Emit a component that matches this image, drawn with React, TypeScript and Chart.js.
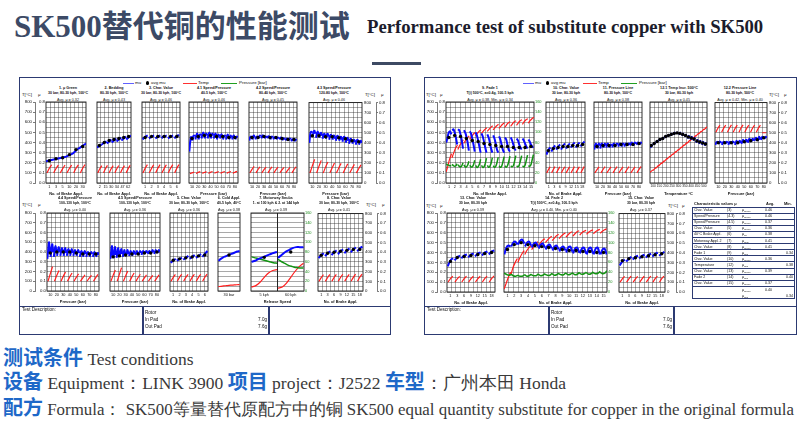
import React, { useEffect, useRef } from "react";
import { Chart, registerables } from "chart.js";

Chart.register(...registerables);

const FONT = "'Liberation Sans', Arial, sans-serif";
const SERIF = "'Liberation Serif', 'Times New Roman', serif";
const CJK = "'Noto Sans CJK SC', 'Noto Sans', sans-serif";
const NAVY = "#2c3a72";
const BLUE = "#1e68c8";
const GRID = "rgba(40,40,40,0.8)";

// ---------- tick labels ----------
const tempTicks = [0, 100, 200, 300, 400, 500, 600, 700, 800];
const muTicks = [0, 0.1, 0.2, 0.3, 0.4, 0.5, 0.6, 0.7, 0.8];
const pressTicks = [0, 20, 40, 60, 80, 100, 120, 140, 160];
const c1Labels = ["1", "3", "5", "10", "20", "30"];
const c2Labels = ["2", "15", "30", "34", "47", "62"];
const six = ["1", "2", "3", "4", "5", "6"];
const pressureLabels = ["10", "20", "30", "40", "50", "60", "70", "80"];
const applLabels = ["1", "3", "6", "9", "12", "15", "18"];
const fadeLabels = ["1", "2", "3", "4", "5", "6", "7", "8", "9", "10", "11", "12", "13", "14", "15"];
const tempLabels = ["100", "150", "200", "250", "300", "350", "400", "450", "500"];

// ---------- 1. mu Green ----------
const c1Mu = [[0.215, 0.22, 0.225, 0.23], [0.23, 0.235, 0.24, 0.245], [0.245, 0.25, 0.255, 0.26], [0.26, 0.27, 0.28, 0.29], [0.29, 0.31, 0.33, 0.345], [0.345, 0.36, 0.375, 0.39]];
const c1Avg = [0.22, 0.24, 0.25, 0.28, 0.33, 0.36];
const c1Temp = [[100, 145, 180], [100, 143, 178], [100, 142, 176], [100, 143, 177], [100, 145, 179], [100, 146, 181]];
// ---------- 2. Bedding ----------
const c2Mu = [[0.35, 0.37, 0.38], [0.38, 0.4, 0.41], [0.39, 0.41, 0.43], [0.4, 0.42, 0.44], [0.41, 0.43, 0.45], [0.42, 0.44, 0.46], [0.43, 0.45, 0.47]];
const c2Avg = [0.37, 0.4, 0.42, 0.43, 0.44, 0.45, 0.46];
const c2Temp = [[100, 140, 172], [100, 141, 174], [100, 140, 172], [100, 141, 173], [100, 140, 172], [100, 142, 175]];
// ---------- 3. Char. Value ----------
const c3Mu = [[0.43, 0.45, 0.46, 0.47], [0.44, 0.45, 0.46, 0.47], [0.44, 0.45, 0.46, 0.47], [0.44, 0.46, 0.46, 0.47], [0.44, 0.45, 0.46, 0.47], [0.44, 0.46, 0.47, 0.47]];
const c3Avg = [0.45, 0.46, 0.46, 0.46, 0.46, 0.46];
const c3Temp = [[100, 145, 182], [100, 144, 180], [100, 145, 181], [100, 144, 180], [100, 145, 181], [100, 146, 183]];
// ---------- 4.1 ----------
const c41Mu = [[0.31, 0.4, 0.45, 0.46], [0.42, 0.46, 0.47, 0.46], [0.43, 0.47, 0.49, 0.47], [0.43, 0.46, 0.48, 0.47], [0.44, 0.48, 0.5, 0.48], [0.44, 0.47, 0.49, 0.47], [0.44, 0.48, 0.5, 0.48], [0.44, 0.47, 0.49, 0.47], [0.44, 0.47, 0.49, 0.47], [0.43, 0.46, 0.48, 0.46], [0.44, 0.47, 0.48, 0.46], [0.43, 0.46, 0.47, 0.46], [0.43, 0.46, 0.48, 0.46], [0.43, 0.45, 0.47, 0.45], [0.43, 0.46, 0.47, 0.45], [0.43, 0.45, 0.46, 0.45]];
const c41Avg = [0.44, 0.46, 0.47, 0.47, 0.46, 0.46, 0.45, 0.45];
const c41Temp = [[92, 100, 108], [95, 104, 112], [96, 104, 112], [96, 105, 113], [97, 105, 113], [97, 106, 114], [97, 106, 114], [98, 106, 115]];
// ---------- 4.2 ----------
const c42Mu = [[0.42, 0.45, 0.46, 0.45], [0.43, 0.46, 0.47, 0.45], [0.43, 0.45, 0.46, 0.45], [0.44, 0.46, 0.47, 0.46], [0.44, 0.46, 0.47, 0.45], [0.44, 0.45, 0.46, 0.45], [0.44, 0.46, 0.46, 0.45], [0.43, 0.45, 0.46, 0.45], [0.43, 0.45, 0.45, 0.44], [0.43, 0.44, 0.45, 0.44], [0.43, 0.44, 0.45, 0.44], [0.42, 0.44, 0.44, 0.43], [0.42, 0.43, 0.44, 0.43], [0.42, 0.43, 0.44, 0.43], [0.41, 0.43, 0.43, 0.42], [0.41, 0.42, 0.43, 0.42]];
const c42Avg = [0.45, 0.45, 0.46, 0.45, 0.45, 0.44, 0.43, 0.43];
const c42Temp = [[100, 135, 165], [100, 133, 160], [100, 132, 158], [100, 133, 160], [100, 132, 158], [100, 130, 155], [100, 130, 155], [100, 133, 160]];
// ---------- 4.3 ----------
const c43Mu = [[0.4, 0.48, 0.51, 0.5], [0.46, 0.51, 0.52, 0.49], [0.45, 0.49, 0.51, 0.48], [0.45, 0.49, 0.5, 0.47], [0.44, 0.48, 0.49, 0.46], [0.44, 0.48, 0.49, 0.46], [0.43, 0.47, 0.48, 0.45], [0.43, 0.47, 0.47, 0.44], [0.42, 0.46, 0.47, 0.44], [0.42, 0.45, 0.46, 0.43], [0.41, 0.45, 0.46, 0.43], [0.4, 0.44, 0.45, 0.42], [0.39, 0.43, 0.44, 0.41], [0.39, 0.42, 0.43, 0.41], [0.38, 0.42, 0.43, 0.4], [0.38, 0.41, 0.42, 0.4]];
const c43Avg = [0.47, 0.47, 0.46, 0.46, 0.45, 0.44, 0.42, 0.41];
const c43Temp = [[100, 170, 235], [100, 165, 225], [100, 158, 210], [100, 152, 200], [100, 150, 195], [100, 147, 190], [100, 145, 185], [100, 142, 180]];
// ---------- 4.4 ----------
const c44Mu = [[0.33, 0.42, 0.5, 0.4], [0.35, 0.43, 0.48, 0.4], [0.35, 0.42, 0.46, 0.4], [0.36, 0.42, 0.45, 0.4], [0.36, 0.41, 0.44, 0.4], [0.36, 0.41, 0.44, 0.39], [0.36, 0.41, 0.43, 0.39], [0.36, 0.4, 0.43, 0.39], [0.36, 0.4, 0.42, 0.39], [0.36, 0.4, 0.42, 0.39], [0.35, 0.39, 0.41, 0.38], [0.35, 0.39, 0.41, 0.38], [0.35, 0.39, 0.4, 0.38], [0.35, 0.38, 0.4, 0.38], [0.35, 0.38, 0.4, 0.37], [0.35, 0.38, 0.39, 0.37]];
const c44Avg = [0.39, 0.4, 0.4, 0.4, 0.39, 0.38, 0.38, 0.38];
const c44Temp = [[100, 175, 250], [100, 158, 210], [100, 150, 195], [100, 145, 185], [100, 140, 175], [100, 135, 165], [100, 132, 160], [100, 137, 170]];
// ---------- 4.5 ----------
const c45Mu = [[0.33, 0.4, 0.46, 0.36], [0.34, 0.4, 0.45, 0.37], [0.34, 0.39, 0.44, 0.37], [0.35, 0.4, 0.43, 0.38], [0.35, 0.39, 0.42, 0.37], [0.36, 0.39, 0.42, 0.38], [0.36, 0.39, 0.41, 0.38], [0.36, 0.39, 0.41, 0.38], [0.37, 0.39, 0.41, 0.38], [0.37, 0.39, 0.41, 0.39], [0.37, 0.4, 0.41, 0.39], [0.38, 0.4, 0.41, 0.39], [0.38, 0.4, 0.41, 0.39], [0.38, 0.4, 0.42, 0.4], [0.38, 0.4, 0.42, 0.4], [0.39, 0.4, 0.42, 0.4]];
const c45Avg = [0.35, 0.36, 0.37, 0.38, 0.38, 0.39, 0.39, 0.4];
const c45Temp = [[100, 160, 215], [100, 170, 240], [100, 155, 205], [100, 145, 185], [100, 138, 172], [100, 135, 165], [100, 132, 160], [100, 135, 165]];
// ---------- 5. Char. Value ----------
const c5Mu = [[0.29, 0.31, 0.33], [0.31, 0.33, 0.34], [0.32, 0.34, 0.36], [0.33, 0.35, 0.37], [0.34, 0.36, 0.38], [0.35, 0.38, 0.41]];
const c5Avg = [0.315, 0.33, 0.34, 0.35, 0.36, 0.37];
const c5Temp = [[100, 138, 170], [100, 140, 172], [100, 139, 171], [100, 140, 172], [100, 140, 172], [100, 141, 174]];
// ---------- 6. Cold Appl. ----------
const c6Mu = [[0.31, 0.33, 0.345, 0.355, 0.365, 0.375, 0.385, 0.395, 0.405, 0.41]];
const c6Avg = [0.37];
const c6Temp = [[45, 48, 52, 55, 58, 60, 62, 64, 66]];
// ---------- 7. Motorway Snubs ----------
const c7Mu = [[0.3, 0.31, 0.33, 0.345, 0.36, 0.375, 0.39, 0.4], [0.34, 0.37, 0.4, 0.42, 0.44, 0.45, 0.45, 0.45]];
const c7Avg = [0.345, 0.4];
const c7Press = [[70, 68, 66, 64, 62, 60, 58, 57], [65, 60, 56, 52, 50, 48, 47, 47]];
const c7Temp = [[40, 55, 90, 140, 185, 210, 220], [30, 40, 80, 140, 200, 250, 285]];
// ---------- 8. Char. Value ----------
const c8Mu = [[0.34, 0.37, 0.39], [0.36, 0.39, 0.41], [0.37, 0.4, 0.42], [0.38, 0.41, 0.43], [0.39, 0.42, 0.44], [0.4, 0.43, 0.45], [0.41, 0.44, 0.46]];
const c8Avg = [0.37, 0.39, 0.4, 0.41, 0.42, 0.43, 0.43];
const c8Temp = [[100, 138, 170], [100, 139, 172], [100, 140, 172], [100, 140, 173], [100, 140, 172], [100, 141, 174], [100, 142, 175]];
// ---------- 9. Fade 1 ----------
const c9Mu = [[0.4, 0.45, 0.5, 0.51, 0.48], [0.52, 0.53, 0.5, 0.45, 0.38], [0.53, 0.52, 0.48, 0.42, 0.34], [0.52, 0.5, 0.46, 0.4, 0.32], [0.51, 0.49, 0.44, 0.38, 0.31], [0.5, 0.47, 0.42, 0.36, 0.3], [0.49, 0.46, 0.41, 0.35, 0.3], [0.48, 0.45, 0.4, 0.34, 0.3], [0.47, 0.44, 0.39, 0.33, 0.3], [0.46, 0.43, 0.38, 0.33, 0.3], [0.45, 0.43, 0.38, 0.33, 0.31], [0.45, 0.42, 0.38, 0.34, 0.32], [0.44, 0.42, 0.38, 0.35, 0.33], [0.44, 0.42, 0.39, 0.36, 0.34], [0.43, 0.41, 0.38, 0.36, 0.35]];
const c9Avg = [0.45, 0.47, 0.46, 0.44, 0.42, 0.41, 0.39, 0.38, 0.37, 0.36, 0.36, 0.35, 0.35, 0.35, 0.36];
const c9Temp = [[110, 170, 240, 290], [250, 300, 345, 375], [330, 370, 400, 425], [390, 420, 445, 465], [430, 455, 480, 500], [465, 490, 510, 525], [490, 510, 530, 545], [510, 530, 550, 565], [525, 545, 565, 580], [540, 560, 580, 595], [550, 575, 595, 605], [560, 585, 605, 615], [570, 595, 615, 625], [580, 605, 625, 635], [590, 615, 635, 650]];
const c9Press = [[38, 36, 35, 34, 34], [37, 34, 33, 34, 38], [36, 33, 32, 34, 40], [36, 32, 32, 35, 43], [35, 32, 32, 36, 45], [35, 31, 32, 37, 47], [35, 31, 32, 38, 49], [35, 31, 33, 39, 50], [34, 31, 33, 40, 51], [34, 31, 33, 41, 52], [34, 31, 34, 42, 53], [34, 32, 34, 43, 54], [34, 32, 35, 44, 54], [34, 32, 35, 45, 55], [34, 33, 36, 46, 56]];
// ---------- 10. Char. Value ----------
const c10Mu = [[0.28, 0.33, 0.35], [0.31, 0.35, 0.37], [0.33, 0.36, 0.38], [0.33, 0.37, 0.39], [0.34, 0.37, 0.39], [0.35, 0.38, 0.4], [0.35, 0.38, 0.4], [0.36, 0.39, 0.41]];
const c10Avg = [0.32, 0.34, 0.35, 0.36, 0.36, 0.37, 0.37, 0.38];
const c10Temp = [[100, 132, 160], [100, 133, 162], [100, 132, 160], [100, 133, 161], [100, 132, 160], [100, 133, 162], [100, 132, 160], [100, 134, 163]];
// ---------- 11. Pressure Line ----------
const c11Mu = [[0.33, 0.37, 0.39, 0.37], [0.34, 0.37, 0.39, 0.37], [0.34, 0.38, 0.39, 0.37], [0.35, 0.37, 0.39, 0.37], [0.35, 0.38, 0.39, 0.37], [0.35, 0.37, 0.38, 0.37], [0.35, 0.38, 0.39, 0.37], [0.36, 0.38, 0.39, 0.38], [0.36, 0.38, 0.39, 0.38], [0.36, 0.38, 0.39, 0.38], [0.36, 0.38, 0.39, 0.38], [0.37, 0.38, 0.39, 0.38], [0.37, 0.39, 0.4, 0.38], [0.37, 0.39, 0.4, 0.39], [0.38, 0.39, 0.4, 0.39], [0.38, 0.39, 0.4, 0.39]];
const c11Avg = [0.36, 0.37, 0.37, 0.37, 0.38, 0.38, 0.38, 0.39];
const c11Temp = [[100, 132, 160], [100, 133, 162], [100, 132, 160], [100, 133, 161], [100, 132, 160], [100, 133, 162], [100, 132, 160], [100, 134, 163]];
// ---------- 12.1 Temp Incr. ----------
const c121Mu = [[0.35, 0.38], [0.38, 0.4], [0.4, 0.42], [0.42, 0.44], [0.43, 0.45], [0.45, 0.47], [0.46, 0.48], [0.47, 0.49], [0.48, 0.5], [0.49, 0.5], [0.48, 0.5], [0.47, 0.49], [0.46, 0.48], [0.44, 0.47], [0.43, 0.46], [0.42, 0.45], [0.4, 0.43], [0.39, 0.42], [0.38, 0.41], [0.37, 0.4]];
const c121Avg = [0.37, 0.39, 0.41, 0.43, 0.44, 0.46, 0.47, 0.48, 0.49, 0.495, 0.49, 0.48, 0.47, 0.455, 0.445, 0.435, 0.415, 0.405, 0.395, 0.385];
const c121Temp = [[105, 130], [122, 152], [145, 175], [168, 198], [190, 220], [212, 243], [235, 265], [258, 288], [280, 310], [302, 333], [325, 355], [348, 378], [370, 400], [392, 423], [415, 445], [438, 468], [460, 490], [482, 512], [505, 535], [527, 555]];
// ---------- 12.2 Pressure Line 500°C ----------
const c122Mu = [[0.38, 0.4, 0.41, 0.4], [0.39, 0.41, 0.41, 0.4], [0.38, 0.4, 0.41, 0.4], [0.39, 0.4, 0.41, 0.4], [0.38, 0.4, 0.41, 0.39], [0.39, 0.41, 0.41, 0.4], [0.38, 0.4, 0.42, 0.4], [0.39, 0.41, 0.42, 0.4], [0.39, 0.41, 0.43, 0.41], [0.4, 0.42, 0.43, 0.41], [0.4, 0.43, 0.44, 0.42], [0.41, 0.43, 0.44, 0.42], [0.42, 0.44, 0.45, 0.43], [0.42, 0.44, 0.46, 0.43], [0.43, 0.45, 0.46, 0.44], [0.44, 0.45, 0.46, 0.45]];
const c122Avg = [0.4, 0.4, 0.4, 0.4, 0.41, 0.42, 0.43, 0.45];
const c122Temp = [[505, 545, 575], [505, 545, 575], [505, 545, 578], [505, 545, 575], [505, 547, 578], [505, 545, 575], [505, 545, 577], [505, 545, 575], [500, 500, 500]];
// ---------- 13. Char. Value ----------
const c13Mu = [[0.26, 0.3, 0.33, 0.34], [0.32, 0.35, 0.37], [0.34, 0.37, 0.38], [0.35, 0.38, 0.39], [0.36, 0.39, 0.4], [0.37, 0.4, 0.41], [0.38, 0.41, 0.42]];
const c13Avg = [0.31, 0.35, 0.36, 0.37, 0.38, 0.39, 0.4];
const c13Temp = [[100, 135, 160], [100, 134, 158], [100, 135, 160], [100, 135, 159], [100, 135, 160], [100, 136, 161], [100, 136, 162]];
// ---------- 14. Fade 2 ----------
const c14Mu = [[0.38, 0.45, 0.47, 0.46], [0.46, 0.5, 0.51, 0.48], [0.48, 0.52, 0.53, 0.49], [0.46, 0.5, 0.51, 0.47], [0.45, 0.49, 0.5, 0.46], [0.44, 0.48, 0.49, 0.45], [0.43, 0.47, 0.48, 0.44], [0.42, 0.46, 0.47, 0.43], [0.41, 0.45, 0.46, 0.42], [0.4, 0.45, 0.46, 0.41], [0.39, 0.44, 0.45, 0.4], [0.39, 0.44, 0.45, 0.39], [0.38, 0.44, 0.45, 0.39], [0.38, 0.44, 0.45, 0.38], [0.38, 0.43, 0.44, 0.38]];
const c14Avg = [0.43, 0.48, 0.5, 0.48, 0.47, 0.46, 0.45, 0.44, 0.43, 0.42, 0.42, 0.41, 0.41, 0.4, 0.4];
const c14Temp = [[30, 90, 150, 200], [180, 250, 300, 340], [300, 350, 390, 420], [380, 420, 450, 470], [430, 460, 490, 510], [470, 500, 525, 540], [500, 525, 550, 565], [520, 545, 570, 585], [540, 565, 585, 600], [555, 580, 600, 610], [565, 590, 610, 620], [575, 600, 615, 625], [585, 605, 620, 630], [590, 610, 625, 635], [595, 615, 630, 640]];
const c14Press = [[38, 36, 34, 35], [36, 33, 32, 34], [34, 32, 32, 35], [35, 32, 33, 36], [35, 33, 33, 37], [36, 33, 34, 37], [36, 34, 34, 38], [37, 34, 35, 38], [37, 35, 35, 39], [38, 35, 36, 39], [38, 35, 36, 40], [38, 36, 37, 40], [39, 36, 37, 41], [39, 37, 38, 42], [40, 37, 38, 43]];
// ---------- 15. Char. Value ----------
const c15Mu = [[0.27, 0.31, 0.33], [0.31, 0.34, 0.36], [0.33, 0.36, 0.37], [0.34, 0.37, 0.38], [0.35, 0.38, 0.39], [0.36, 0.39, 0.4], [0.37, 0.39, 0.41]];
const c15Avg = [0.32, 0.34, 0.35, 0.36, 0.37, 0.38, 0.39];
const c15Temp = [[100, 134, 160], [100, 135, 161], [100, 134, 160], [100, 135, 161], [100, 135, 162], [100, 136, 162], [100, 136, 163]];

// ---------- characteristic values table ----------
const charNames = ["Char. Value", "Speed/Pressure", "Speed/Pressure", "Char. Value", "40°C Brake Appl.", "Motorway Appl. 2", "Char. Value", "Fade 1", "Char. Value", "Temperature", "Char. Value", "Fade 2", "Char. Value"];
const charCodes = ["(3)", "(4.3)", "(4.5)", "(5)", "(6)", "(7)", "(8)", "(9)", "(10)", "(12)", "(13)", "(14)", "(15)"];
const charSyms = ["mean", "mean", "mean", "mean", "op", "max", "mean", "min", "mean", "min", "mean", "min", "mean"];
const charAvg = ["0.46", "0.46", "0.37", "0.36", "0.38", "0.41", "0.41", "", "0.36", "", "0.39", "", "0.37"];
const charMin = ["", "", "", "", "", "", "", "0.34", "", "0.38", "", "0.40", ""];

type Spec = {
  title: string[];
  labels: string[];
  xTitle: string;
  cols: number;
  mu?: number[][];
  avg?: number[];
  temp?: number[][];
  press?: number[][];
  muFit?: number[];
  tempFit?: number[];
  pressFit?: number[];
  l: number; r: number; t: number; b: number;
  left?: number[];
  right?: number[];
  pressW?: number;
  tick?: number;
};

const PADT = 4;
const XAXH = 13;
const R1 = [102, 183];
const R2 = [213, 291];
const R2R = [213, 292];
const APPL = "No. of Brake Appl.";
const PRES = "Pressure (bar)";

const specs: Spec[] = [
  { title: ["1. μ Green", "30 bar, 80-30 kph, 100°C", "Avg. μ = 0.32"], labels: c1Labels, xTitle: APPL, cols: 10, mu: c1Mu, avg: c1Avg, temp: c1Temp, muFit: [0, 1], l: 46, r: 89, t: R1[0], b: R1[1], left: [15, 11] },
  { title: ["2. Bedding", "80-30 kph, 100°C", "Avg. μ = 0.43"], labels: c2Labels, xTitle: APPL, cols: 9, mu: c2Mu, avg: c2Avg, temp: c2Temp, muFit: [0.02, 0.96], l: 94, r: 134, t: R1[0], b: R1[1] },
  { title: ["3. Char. Value", "30 bar, 80-30 kph, 100°C", "Avg. μ = 0.46"], labels: six, xTitle: APPL, cols: 10, mu: c3Mu, avg: c3Avg, temp: c3Temp, l: 139, r: 183, t: R1[0], b: R1[1] },
  { title: ["4.1 Speed/Pressure", "40-5 kph, 100°C", "Avg. μ = 0.46"], labels: pressureLabels, xTitle: PRES, cols: 12, mu: c41Mu, avg: c41Avg, temp: c41Temp, l: 186, r: 241, t: R1[0], b: R1[1] },
  { title: ["4.2 Speed/Pressure", "80-40 kph, 100°C", "Avg. μ = 0.45"], labels: pressureLabels, xTitle: PRES, cols: 12, mu: c42Mu, avg: c42Avg, temp: c42Temp, l: 246, r: 300, t: R1[0], b: R1[1] },
  { title: ["4.3 Speed/Pressure", "120-80 kph, 100°C", "Avg. μ = 0.46"], labels: pressureLabels, xTitle: PRES, cols: 12, mu: c43Mu, avg: c43Avg, temp: c43Temp, l: 306, r: 362, t: R1[0], b: R1[1], right: [14, 12] },

  { title: ["4.4 Speed/Pressure", "100-130 kph, 100°C", "Avg. μ = 0.40"], labels: pressureLabels, xTitle: PRES, cols: 12, mu: c44Mu, avg: c44Avg, temp: c44Temp, l: 47, r: 102, t: R2[0], b: R2[1], left: [15, 12] },
  { title: ["4.5 Speed/Pressure", "100-130 kph, 100°C", "Avg. μ = 0.36"], labels: pressureLabels, xTitle: PRES, cols: 12, mu: c45Mu, avg: c45Avg, temp: c45Temp, l: 107, r: 163, t: R2[0], b: R2[1] },
  { title: ["5. Char. Value", "30 bar, 80-30 kph, 100°C", "Avg. μ = 0.36"], labels: six, xTitle: APPL, cols: 10, mu: c5Mu, avg: c5Avg, temp: c5Temp, l: 167, r: 211, t: R2[0], b: R2[1] },
  { title: ["6. Cold Appl.", "40-5 kph, 40°C", "Avg. μ = 0.38"], labels: ["30 bar"], xTitle: "", cols: 1, mu: c6Mu, avg: c6Avg, temp: c6Temp, muFit: [0.02, 0.96], tempFit: [0.02, 0.96], l: 215, r: 243, t: R2[0], b: R2[1] },
  { title: ["7. Motorway Snubs", "1. at 100 kph & 2. at 144 kph", "Avg. μ = 0.39"], labels: ["5 kph", "60 kph"], xTitle: "Release Speed", cols: 2, mu: c7Mu, avg: c7Avg, temp: c7Temp, press: c7Press, muFit: [0.02, 0.96], tempFit: [0.02, 0.96], pressFit: [0.02, 0.96], l: 248, r: 304, t: R2[0], b: R2[1], pressW: 9 },
  { title: ["8. Char. Value", "30 bar, 80-30 kph, 100°C", "Avg. μ = 0.41"], labels: applLabels, xTitle: APPL, cols: 11, mu: c8Mu, avg: c8Avg, temp: c8Temp, l: 315, r: 363, t: R2[0], b: R2[1], right: [14, 12] },

  { title: ["9. Fade 1", "T(i) 500°C, a=0.4g, 100-5 kph", "Avg. μ = 0.38, Min. μ = 0.34"], labels: fadeLabels, xTitle: APPL, cols: 18, mu: c9Mu, avg: c9Avg, temp: c9Temp, press: c9Press, muFit: [0.05, 0.85], tempFit: [0.02, 0.93], pressFit: [0.05, 0.85], l: 446, r: 534, t: R1[0], b: R1[1], left: [12, 9], pressW: 8 },
  { title: ["10. Char. Value", "30 bar, 80-30 kph", "Avg. μ = 0.36"], labels: applLabels, xTitle: APPL, cols: 10, mu: c10Mu, avg: c10Avg, temp: c10Temp, l: 543, r: 588, t: R1[0], b: R1[1] },
  { title: ["11. Pressure Line", "80-30 kph, 100°C", "Avg. μ = 0.38"], labels: pressureLabels, xTitle: PRES, cols: 12, mu: c11Mu, avg: c11Avg, temp: c11Temp, l: 591, r: 645, t: R1[0], b: R1[1] },
  { title: ["12.1 Temp Incr. 500°C", "30 bar, 80-30 kph", "Avg. μ = 0.45"], labels: tempLabels, xTitle: "Temperature °C", cols: 14, mu: c121Mu, avg: c121Avg, temp: c121Temp, muFit: [0.05, 0.85], tempFit: [0, 1], l: 647, r: 710, t: R1[0], b: R1[1], tick: 3.2 },
  { title: ["12.2 Pressure Line", "80-30 kph, 500°C", "Avg. μ = 0.42, Min. μ = 0.40"], labels: pressureLabels, xTitle: PRES, cols: 12, mu: c122Mu, avg: c122Avg, temp: c122Temp, l: 712, r: 767, t: R1[0], b: R1[1], right: [11, 11] },

  { title: ["13. Char. Value", "30 bar, 80-30 kph", "Avg. μ = 0.39"], labels: applLabels, xTitle: APPL, cols: 11, mu: c13Mu, avg: c13Avg, temp: c13Temp, l: 447, r: 498, t: R2R[0], b: R2R[1], left: [12, 10] },
  { title: ["14. Fade 2", "T(i) 500°C, a=0.4g, 100-5 kph", "Avg. μ = 0.40, Min. μ = 0.40"], labels: fadeLabels, xTitle: APPL, cols: 21, mu: c14Mu, avg: c14Avg, temp: c14Temp, press: c14Press, muFit: [0.05, 0.9], tempFit: [0.02, 0.93], pressFit: [0, 1], l: 501, r: 607, t: R2R[0], b: R2R[1], pressW: 8 },
  { title: ["15. Char. Value", "30 bar, 80-30 kph", "Avg. μ = 0.37"], labels: applLabels, xTitle: APPL, cols: 11, mu: c15Mu, avg: c15Avg, temp: c15Temp, l: 616, r: 665, t: R2R[0], b: R2R[1], right: [11, 11] },
];

function segPoints(segs: number[][], start: number, fill: number) {
  const n = segs.length;
  const pts: any[] = [];
  segs.forEach((s, i) => {
    const k = s.length;
    s.forEach((v, j) => pts.push({ x: (i + start + (fill * j) / (k - 1)) / n, y: v }));
    pts.push({ x: (i + start + fill) / n, y: null });
  });
  return pts;
}
function dotPoints(vals: number[], start: number, fill: number) {
  const n = vals.length;
  return vals.map((v, i) => ({ x: (i + start + fill / 2) / n, y: v }));
}

const framePlugin = {
  id: "frame",
  beforeDatasetsDraw(chart: any) {
    const { ctx, chartArea: a } = chart;
    ctx.save();
    ctx.strokeStyle = "#1a1a1a";
    ctx.lineWidth = 0.9;
    ctx.strokeRect(a.left, a.top, a.right - a.left, a.bottom - a.top);
    ctx.restore();
  },
};

function geom(s: Spec) {
  const lw = s.left ? s.left[0] + s.left[1] : 1;
  const rw = s.right ? s.right[0] + s.right[1] : s.pressW ? s.pressW : 1;
  return { x: s.l - lw, y: s.t - PADT, w: s.r - s.l + lw + rw, h: s.b - s.t + PADT + XAXH, lw, rw };
}

function makeConfig(s: Spec, g: any) {
  const tf = { size: s.tick ?? 3.8, family: FONT };
  const af = { size: 4.3, family: FONT };
  const muFit = s.muFit ?? [0.1, 0.8];
  const tFit = s.tempFit ?? [0.15, 0.7];
  const pFit = s.pressFit ?? [0.1, 0.8];
  const ds: any[] = [];
  if (s.avg) ds.push({ data: dotPoints(s.avg, muFit[0], muFit[1]), yAxisID: "yMu", xAxisID: "x", showLine: false, pointRadius: 1.7, pointBackgroundColor: "#000", pointBorderWidth: 0 });
  if (s.mu) ds.push({ data: segPoints(s.mu, muFit[0], muFit[1]), yAxisID: "yMu", xAxisID: "x", borderColor: "#0a0aff", borderWidth: 2, pointRadius: 0, tension: 0.3, spanGaps: false });
  if (s.press) ds.push({ data: segPoints(s.press, pFit[0], pFit[1]), yAxisID: "yP", xAxisID: "x", borderColor: "#139413", borderWidth: 1.5, pointRadius: 0, tension: 0.3, spanGaps: false });
  if (s.temp) ds.push({ data: segPoints(s.temp, tFit[0], tFit[1]), yAxisID: "y", xAxisID: "x", borderColor: "#ff1e1e", borderWidth: 1.2, pointRadius: 0, tension: 0.3, spanGaps: false });

  const scales: any = {
    x: {
      type: "linear", min: 0, max: 1, position: "bottom",
      grid: { display: false, drawTicks: false }, border: { display: false },
      afterBuildTicks: (ax: any) => { ax.ticks = s.labels.map((_l, i) => ({ value: (i + 0.5) / s.labels.length })); },
      ticks: { autoSkip: false, maxRotation: 0, minRotation: 0, padding: 1.5, font: tf, color: "#111", callback: (_v: any, i: number) => s.labels[i] },
      title: { display: !!s.xTitle, text: s.xTitle, font: { size: 3.9, family: FONT, weight: "bold" }, color: "#111", padding: 0 },
      afterFit: (ax: any) => { ax.height = XAXH; },
    },
    xg: {
      type: "linear", min: 0, max: 1, position: "top",
      ticks: { display: false }, border: { display: false },
      grid: { color: s.cols === 2 ? "#222" : GRID, lineWidth: s.cols === 2 ? 1 : 0.5, drawTicks: false },
      afterBuildTicks: (ax: any) => { const t: any[] = []; for (let i = 1; i < s.cols; i++) t.push({ value: i / s.cols }); ax.ticks = t; },
      afterFit: (ax: any) => { ax.height = 0; },
    },
    y: {
      type: "linear", min: 0, max: 800, position: "left",
      ticks: { display: false, stepSize: 50 }, border: { display: false },
      grid: { color: GRID, lineWidth: 0.5, drawTicks: false },
      afterFit: (ax: any) => { ax.width = 0; },
    },
    yMu: { type: "linear", display: false, min: 0, max: 0.8 },
    yP: {
      type: "linear", display: !!s.pressW, position: "right", min: 0, max: 160,
      afterBuildTicks: (ax: any) => { ax.ticks = pressTicks.map((v) => ({ value: v })); },
      ticks: { font: { size: 3.9, family: FONT }, color: "#1a8a1a", padding: 1 },
      grid: { display: false, drawTicks: false }, border: { display: false },
      afterFit: (ax: any) => { ax.width = s.pressW ?? 0; },
    },
  };
  if (s.left) {
    scales.yTL = {
      type: "linear", position: "left", weight: 2, min: 0, max: 800,
      afterBuildTicks: (ax: any) => { ax.ticks = tempTicks.map((v) => ({ value: v })); },
      ticks: { font: af, color: "#111", padding: 1 },
      grid: { drawOnChartArea: false, drawTicks: true, tickLength: 2, color: "#222", lineWidth: 0.6 },
      border: { display: true, color: "#222", width: 0.6 },
      afterFit: (ax: any) => { ax.width = s.left![0]; },
    };
    scales.yML = {
      type: "linear", position: "left", weight: 1, min: 0, max: 0.8,
      afterBuildTicks: (ax: any) => { ax.ticks = muTicks.map((v) => ({ value: v })); },
      ticks: { font: af, color: "#111", padding: 1, callback: (v: any) => Number(v).toFixed(1) },
      grid: { display: false, drawTicks: false }, border: { display: false },
      afterFit: (ax: any) => { ax.width = s.left![1]; },
    };
  }
  if (s.right) {
    scales.yTR = {
      type: "linear", position: "right", weight: 1, min: 0, max: 800,
      afterBuildTicks: (ax: any) => { ax.ticks = tempTicks.map((v) => ({ value: v })); },
      ticks: { font: af, color: "#111", padding: 2 },
      grid: { display: false, drawTicks: false }, border: { display: false },
      afterFit: (ax: any) => { ax.width = s.right![0]; },
    };
    scales.yMR = {
      type: "linear", position: "right", weight: 2, min: 0, max: 0.8,
      afterBuildTicks: (ax: any) => { ax.ticks = muTicks.map((v) => ({ value: v })); },
      ticks: { font: af, color: "#111", padding: 1, callback: (v: any) => Number(v).toFixed(1) },
      grid: { drawOnChartArea: false, drawTicks: true, tickLength: 2, color: "#222", lineWidth: 0.6 },
      border: { display: true, color: "#222", width: 0.6 },
      afterFit: (ax: any) => { ax.width = s.right![1]; },
    };
  }
  return {
    type: "line",
    data: { datasets: ds },
    options: {
      animation: false,
      responsive: false,
      events: [],
      layout: { padding: { left: s.left ? 0 : g.lw, right: s.right || s.pressW ? 0 : g.rw, top: PADT, bottom: 0 } },
      plugins: { legend: { display: false }, tooltip: { enabled: false } },
      scales,
    },
    plugins: [framePlugin],
  };
}

function MiniChart({ spec }: { spec: Spec }) {
  const ref = useRef<HTMLCanvasElement>(null);
  const g = geom(spec);
  useEffect(() => {
    const chart = new Chart(ref.current as HTMLCanvasElement, makeConfig(spec, g) as any);
    return () => chart.destroy();
  }, []);
  return <canvas ref={ref} width={g.w} height={g.h} style={{ position: "absolute", left: g.x, top: g.y, width: g.w, height: g.h }} />;
}

function Tx(p: { x: number; y: number; s?: number; a?: string; b?: boolean; c?: string; children: any }) {
  const s = p.s ?? 4.3;
  const tx = p.a === "m" ? "-50%" : p.a === "e" ? "-100%" : "0%";
  return (
    <div style={{ position: "absolute", left: p.x, top: p.y, fontSize: s * 2, lineHeight: 1, whiteSpace: "nowrap", fontFamily: FONT, fontWeight: p.b ? 700 : 400, color: p.c ?? "#111", transformOrigin: "0 0", transform: `scale(0.5) translate(${tx}, -50%)` }}>
      {p.children}
    </div>
  );
}

function Box(p: { x: number; y: number; w: number; h: number; bw?: number }) {
  return <div style={{ position: "absolute", left: p.x, top: p.y, width: p.w, height: p.h, border: `${p.bw ?? 1.5}px solid ${NAVY}`, boxSizing: "border-box" }} />;
}
function Line(p: { x: number; y: number; w: number; h: number; c?: string }) {
  return <div style={{ position: "absolute", left: p.x, top: p.y, width: p.w, height: p.h, background: p.c ?? NAVY }} />;
}

function Legend({ dx }: { dx: number }) {
  const y = 83;
  return (
    <>
      <Line x={123 + dx} y={y - 0.5} w={11} h={1} c="#6060ff" />
      <Tx x={135 + dx} y={y} s={4.4}>mu</Tx>
      <div style={{ position: "absolute", left: 146 + dx, top: y - 1.6, width: 3.2, height: 3.2, borderRadius: 2, background: "#000" }} />
      <Tx x={151 + dx} y={y} s={4.4}>avg mu</Tx>
      <Line x={183 + dx} y={y - 0.5} w={14} h={1} c="#ff3030" />
      <Tx x={198 + dx} y={y} s={4.4}>Temp</Tx>
      <Line x={221 + dx} y={y - 0.5} w={16} h={1} c="#20a020" />
      <Tx x={239 + dx} y={y} s={4.4}>Pressure [bar]</Tx>
    </>
  );
}

function Titles({ s }: { s: Spec }) {
  const cx = (s.l + s.r) / 2;
  const y0 = s.t === R1[0] ? 88 : 198;
  return (
    <>
      <Tx x={cx} y={y0} a="m" b s={3.7}>{s.title[0]}</Tx>
      <Tx x={cx} y={y0 + 5.4} a="m" b s={3.5}>{s.title[1]}</Tx>
      <Tx x={cx} y={y0 + 11.8} a="m" s={3.7}>{s.title[2]}</Tx>
    </>
  );
}

function AxisHeads({ x1, x2, y }: { x1: number; x2: number; y: number }) {
  return (
    <>
      <Tx x={x1} y={y}>T[°C]</Tx>
      <Tx x={x2} y={y}>μ</Tx>
    </>
  );
}

function TestDesc({ x0, d1, d2, x1 }: { x0: number; d1: number; d2: number; x1: number }) {
  return (
    <>
      <Line x={x0} y={305.5} w={x1 - x0} h={1.5} />
      <Line x={d1} y={306} w={1.5} h={29} />
      <Line x={d2} y={306} w={1.5} h={29} />
      <Tx x={x0 + 3} y={309.5} s={4.6}>Test Description:</Tx>
      <Tx x={d1 + 3} y={313} s={4.6}>Rotor</Tx>
      <Tx x={d1 + 3} y={320} s={4.6}>In Pad</Tx>
      <Tx x={d1 + 3} y={326.5} s={4.6}>Out Pad</Tx>
      <Tx x={d2 - 1} y={320} a="e" s={4.6}>7.0g</Tx>
      <Tx x={d2 - 1} y={326.5} a="e" s={4.6}>7.6g</Tx>
    </>
  );
}

function Mu({ sub }: { sub: string }) {
  return (
    <span>
      μ<span style={{ fontSize: "70%", verticalAlign: "-0.25em" }}>{sub}</span>
    </span>
  );
}

function CharTable() {
  const x0 = 692, x1 = 795, top = 207, rh = 6.1;
  const sumTop = top + charNames.length * rh;
  const fs = 3.6;
  return (
    <>
      <Tx x={694} y={203.5} s={3.9} b>Characteristic values μ</Tx>
      <Tx x={766} y={203.5} s={3.9} b>Avg.</Tx>
      <Tx x={784} y={203.5} s={3.9} b>Min.</Tx>
      <Box x={x0} y={top} w={x1 - x0} h={299 - top} bw={1.3} />
      {charNames.map((n, i) => (
        <React.Fragment key={i}>
          <Line x={x0} y={top + (i + 1) * rh - 0.5} w={x1 - x0} h={1} />
          <Tx x={694} y={top + i * rh + rh / 2} s={fs}>{n}</Tx>
          <Tx x={727} y={top + i * rh + rh / 2} s={fs}>{charCodes[i]}</Tx>
          <Tx x={742} y={top + i * rh + rh / 2} s={fs}><Mu sub={charSyms[i]} /></Tx>
          <Tx x={772} y={top + i * rh + rh / 2} a="e" s={fs}>{charAvg[i]}</Tx>
          <Tx x={793} y={top + i * rh + rh / 2} a="e" s={fs}>{charMin[i]}</Tx>
        </React.Fragment>
      ))}
      <Tx x={742} y={sumTop + 3.5} s={fs}><Mu sub="mean" /></Tx>
      <Tx x={772} y={sumTop + 3.5} a="e" s={fs}>0.40</Tx>
      <Tx x={742} y={sumTop + 9.5} s={fs}><Mu sub="min" /></Tx>
      <Tx x={793} y={sumTop + 9.5} a="e" s={fs}>0.34</Tx>
    </>
  );
}

const rowStyle: any = { position: "absolute", left: 3, display: "flex", alignItems: "baseline", whiteSpace: "nowrap", lineHeight: "22px", color: "#3a3a3a", fontFamily: SERIF, fontSize: 17.5 };
const kw: any = { fontFamily: CJK, fontWeight: 700, fontSize: 20, color: BLUE };

export default function App() {
  return (
    <div style={{ position: "absolute", left: 0, top: 0, width: 800, height: 427, background: "#fff", overflow: "hidden" }}>
      <div style={{ position: "absolute", left: 14, top: 8, fontSize: 31, lineHeight: "32px", fontWeight: 700, color: "#3c4a66", whiteSpace: "nowrap" }}>
        <span style={{ fontFamily: SERIF }}>SK500</span>
        <span style={{ fontFamily: CJK }}>替代铜的性能测试</span>
      </div>
      <div style={{ position: "absolute", left: 367, top: 16, fontSize: 18.7, lineHeight: "22px", fontWeight: 700, fontFamily: SERIF, color: "#1c1c2c", whiteSpace: "nowrap" }}>
        Performance test of substitute copper with SK500
      </div>
      <Line x={372} y={62} w={49} h={2.5} c="#3d4a63" />

      {/* panels */}
      <Box x={19} y={77} w={372} h={258} />
      <Box x={424} y={77} w={373} h={258} />
      <Legend dx={0} />
      <Legend dx={400} />
      <AxisHeads x1={22} x2={38} y={95} />
      <AxisHeads x1={365} x2={381} y={95} />
      <AxisHeads x1={22} x2={38} y={205} />
      <AxisHeads x1={366} x2={382} y={205} />
      <AxisHeads x1={426} x2={440} y={95} />
      <AxisHeads x1={769} x2={784} y={95} />
      <AxisHeads x1={426} x2={440} y={206} />
      <AxisHeads x1={668} x2={682} y={206} />

      {specs.map((s, i) => (
        <React.Fragment key={i}>
          <Titles s={s} />
          <MiniChart spec={s} />
        </React.Fragment>
      ))}

      <CharTable />
      <TestDesc x0={19} d1={142} d2={268} x1={391} />
      <TestDesc x0={424} d1={548} d2={673} x1={797} />

      {/* bottom text */}
      <div style={{ ...rowStyle, top: 346 }}>
        <span style={kw}>测试条件</span>
        <span>&nbsp;Test conditions</span>
      </div>
      <div style={{ ...rowStyle, top: 370 }}>
        <span style={kw}>设备</span>
        <span>&nbsp;Equipment：LINK 3900&nbsp;</span>
        <span style={kw}>项目</span>
        <span>&nbsp;project：J2522&nbsp;</span>
        <span style={kw}>车型</span>
        <span>：广州本田 Honda</span>
      </div>
      <div style={{ ...rowStyle, top: 396, fontSize: 16.9 }}>
        <span style={kw}>配方</span>
        <span>&nbsp;Formula：&nbsp;SK500等量替代原配方中的铜 SK500 equal quantity substitute for copper in the original formula</span>
      </div>
    </div>
  );
}
